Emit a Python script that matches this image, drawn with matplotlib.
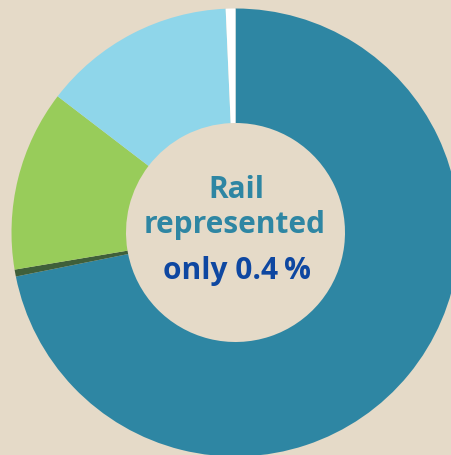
import matplotlib
matplotlib.use("Agg")
import matplotlib.pyplot as plt

# share of each mode, read clockwise from the top
modes = ["Road", "Inland waterways", "Sea", "Air", "Rail"]
shares = [71.85, 0.5, 13.05, 13.9, 0.7]
colors = ["#2e86a3", "#3f5f3a", "#98cc5a", "#8fd6ea", "#ffffff"]

bg = "#e5dac8"
W, H = 452, 455

fig = plt.figure(figsize=(W / 100, H / 100), dpi=100, facecolor=bg)
ax = fig.add_axes([0, 0, 1, 1])
ax.set_facecolor(bg)

cx, cy = 235.5, H - 232.5
R = 224
ring = 114.5

ax.pie(shares, colors=colors, startangle=90, counterclock=False,
       center=(cx, cy), radius=R, frame=True,
       wedgeprops=dict(width=ring, linewidth=0))

ax.set_xlim(0, W)
ax.set_ylim(0, H)
ax.set_aspect("equal")
ax.axis("off")

font = dict(family="Open Sans", weight="bold", fontsize=21.5, ha="center", va="baseline")
ax.text(236, H - 198, "Rail", color="#2e86a3", **font)
ax.text(235, H - 233, "represented", color="#2e86a3", **font)
ax.text(236.5, H - 279, "only 0.4\u2009%", color="#0e47a1", **font)

fig.savefig("out.png", dpi=100, facecolor=bg)
